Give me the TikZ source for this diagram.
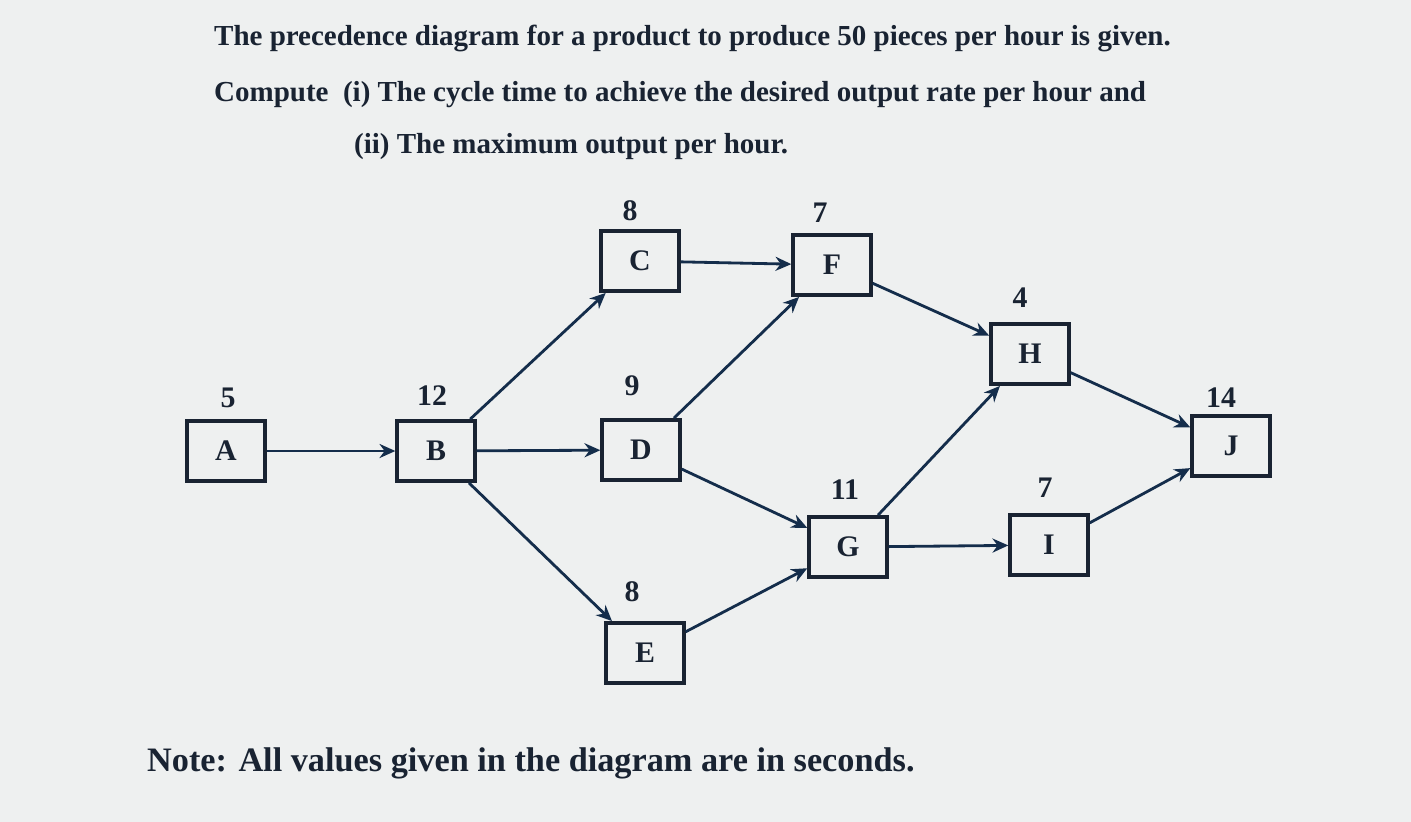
\documentclass[tikz,border=0pt]{standalone}
\usepackage{fontspec}
\setmainfont{Liberation Serif}
\usetikzlibrary{arrows.meta}
\definecolor{bg}{RGB}{238,240,240}
\definecolor{ink}{RGB}{25,35,50}
\definecolor{edge}{RGB}{20,45,75}
\begin{document}
\begin{tikzpicture}[x=0.02cm,y=-0.02cm,
  box/.style={draw=ink,line width=2.2pt,minimum width=1.55cm,minimum height=1.2cm,font=\fontsize{17}{20}\selectfont\bfseries,text=ink},
  val/.style={font=\fontsize{17}{20}\selectfont\bfseries,text=ink},
  arr/.style={draw=edge,line width=1.6pt,-{Stealth[length=9pt,width=8pt]}},
  ttl/.style={font=\fontsize{16.5}{19}\selectfont\bfseries,text=ink,anchor=west}]
\fill[bg] (0,0) rectangle (1411,822);
\useasboundingbox (0,0) rectangle (1411,822);
\node[ttl] (t1) at (208,38) {The precedence diagram for a product to produce 50 pieces per hour is given.};
\node[ttl] (t2) at (208,95) {Compute\ \ (i) The cycle time to achieve the desired output rate per hour and};
\node[ttl] (t3) at (348,147) {(ii) The maximum output per hour.};
\node[box] (A) at (226,451) {A};
\node[box] (B) at (436,451) {B};
\node[box] (C) at (640,261) {C};
\node[box] (D) at (641,450) {D};
\node[box] (E) at (645,653) {E};
\node[box] (F) at (832,265) {F};
\node[box] (G) at (848,547) {G};
\node[box] (H) at (1030,354) {H};
\node[box] (I) at (1049,545) {I};
\node[box] (J) at (1231,446) {J};
\node[val] (lA) at (228,398) {5};
\node[val] (lB) at (432,396) {12};
\node[val] (lC) at (630,211) {8};
\node[val] (lF) at (820,213) {7};
\node[val] (lD) at (632,386) {9};
\node[val] (lH) at (1020,298) {4};
\node[val] (lJ) at (1221,398) {14};
\node[val] (lG) at (845,490) {11};
\node[val] (lI) at (1045,488) {7};
\node[val] (lE) at (632,592) {8};
\draw[arr] (A) -- (B);
\draw[arr] (B) -- (C);
\draw[arr] (B) -- (D);
\draw[arr] (B) -- (E);
\draw[arr] (C) -- (F);
\draw[arr] (D) -- (F);
\draw[arr] (D) -- (G);
\draw[arr] (E) -- (G);
\draw[arr] (F) -- (H);
\draw[arr] (G) -- (H);
\draw[arr] (G) -- (I);
\draw[arr] (H) -- (J);
\draw[arr] (I) -- (J);
\node[font=\fontsize{19.5}{22}\selectfont\bfseries,text=ink,anchor=west] (note) at (141,763) {Note: All values given in the diagram are in seconds.};
\end{tikzpicture}
\end{document}
